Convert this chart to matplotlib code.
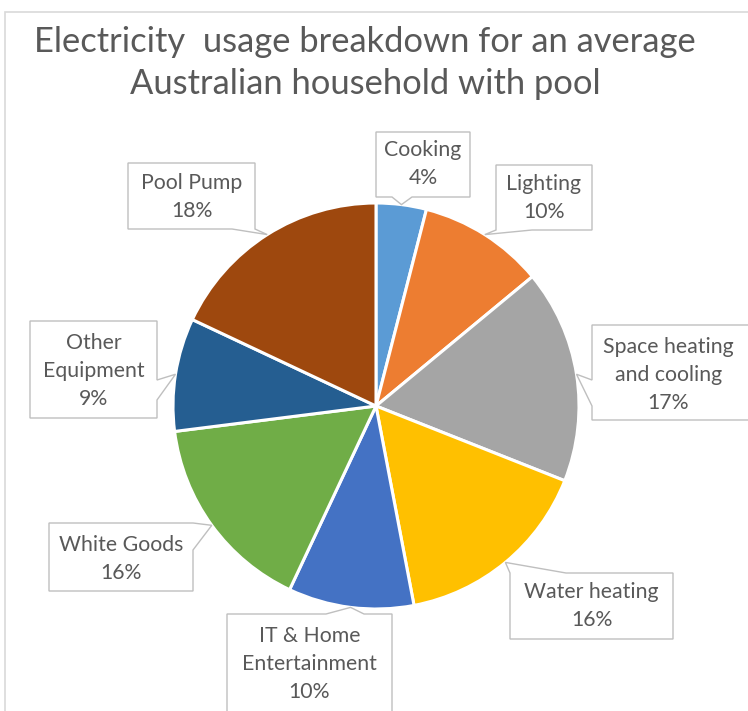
import matplotlib
matplotlib.use("Agg")
import matplotlib.pyplot as plt
from matplotlib.patches import Polygon, Rectangle
import numpy as np

# ---- data ----
categories = ["Cooking", "Lighting", "Space heating\nand cooling", "Water heating",
              "IT & Home\nEntertainment", "White Goods", "Other\nEquipment", "Pool Pump"]
values = [4, 10, 17, 16, 10, 16, 9, 18]
colors = ["#5B9BD5", "#ED7D31", "#A5A5A5", "#FFC000", "#4472C4", "#70AD47", "#255E91", "#9E480E"]
title = "Electricity  usage breakdown for an average\nAustralian household with pool"

# ---- layout (image pixel coords, y downward) ----
W, H = 748, 711
CX, CY, R = 376, 406, 203
# box: (x0, y0, x1, y1), pointer side, base positions along that side, text center y
boxes = [
    ((376, 132, 470, 197), "bottom", (392, 412), 164),
    ((496, 165, 592, 230), "bottom", (496, 532), 198),
    ((592, 325, 750, 420), "left", (380, 406), 375),
    ((510, 573, 673, 639), "top", (510, 566), 606),
    ((227, 614, 392, 720), "top", (326, 364), 664),
    ((49, 523, 193, 591), "right", (523, 550), 559),
    ((30, 321, 157, 418), "right", (380, 400), 371),
    ((128, 163, 255, 229), "bottom", (232, 255), 197),
]

fig = plt.figure(figsize=(W / 100, H / 100), dpi=100)
ax = fig.add_axes([0, 0, 1, 1])

def fy(y):
    return H - y

wedges, _ = ax.pie(values, colors=colors, startangle=90, counterclock=False,
                   center=(CX, fy(CY)), radius=R, frame=True,
                   wedgeprops=dict(edgecolor="white", linewidth=2.2))
ax.set_xlim(0, W)
ax.set_ylim(0, H)
ax.set_aspect("equal")
ax.axis("off")

# chart area border (left and top visible)
ax.add_patch(Rectangle((5, fy(760)), 800, 760 - 12, fill=False, edgecolor="#D9D9D9", lw=1.2, zorder=0))

total = sum(values)
cum = np.cumsum([0] + values[:-1])
for i, (lab, v) in enumerate(zip(categories, values)):
    mid = (cum[i] + v / 2) / total
    ang = np.deg2rad(90 - mid * 360)
    tip = (CX + R * np.cos(ang), fy(CY) + R * np.sin(ang))
    (x0, y0, x1, y1), side, (a, b), ty = boxes[i]
    X0, X1 = x0, x1
    Y0, Y1 = fy(y1), fy(y0)  # bottom, top in data
    if side == "bottom":
        verts = [(X0, Y1), (X1, Y1), (X1, Y0), (b, Y0), tip, (a, Y0), (X0, Y0)]
    elif side == "top":
        verts = [(X0, Y1), (a, Y1), tip, (b, Y1), (X1, Y1), (X1, Y0), (X0, Y0)]
    elif side == "left":
        verts = [(X0, Y1), (X1, Y1), (X1, Y0), (X0, Y0), (X0, fy(b)), tip, (X0, fy(a))]
    else:  # right
        verts = [(X0, Y1), (X1, Y1), (X1, fy(a)), tip, (X1, fy(b)), (X1, Y0), (X0, Y0)]
    ax.add_patch(Polygon(verts, closed=True, facecolor="white", edgecolor="#BFBFBF", lw=1.0, zorder=5))
    cx = (x0 + min(x1, 745)) / 2
    ax.text(cx, fy(ty), f"{lab}\n{v}%", ha="center", va="center", fontsize=15.3,
            color="#595959", family="Lato", linespacing=1.5, zorder=6)

fig.text(365 / W, 1 - 63 / H, title, ha="center", va="center", fontsize=24.8,
         color="#595959", family="Lato", linespacing=1.4)

fig.savefig("out.png", dpi=100, facecolor="white")
